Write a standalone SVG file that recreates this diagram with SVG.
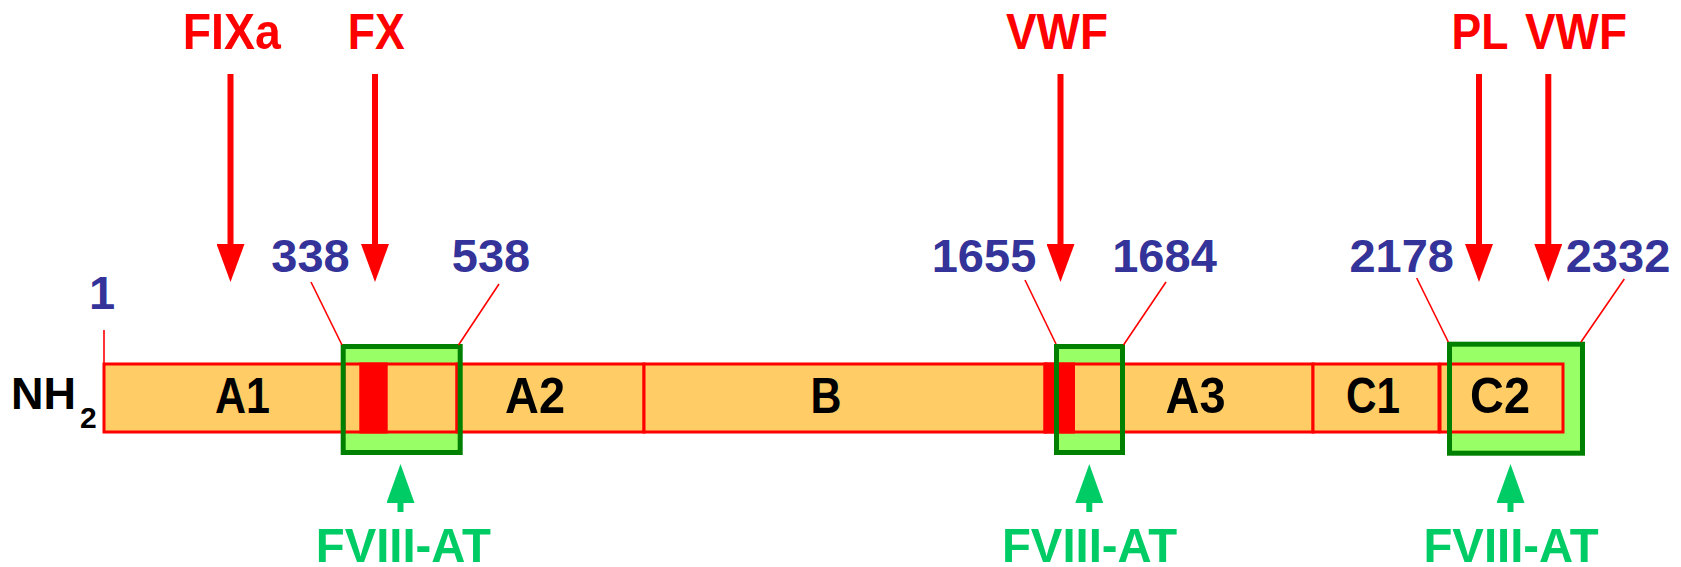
<svg xmlns="http://www.w3.org/2000/svg" width="1681" height="567" viewBox="0 0 1681 567">
  <style>
    text { font-family: "Liberation Sans", Arial, Helvetica, sans-serif; font-weight: bold; }
    .ligand { fill: #ff0000; font-size: 50px; text-anchor: middle; }
    .pos { fill: #333399; font-size: 47px; text-anchor: middle; }
    .dom { fill: #000000; font-size: 50px; text-anchor: middle; }
    .at { fill: #00cc66; font-size: 49px; text-anchor: middle; }
    .seg { fill: #ffcc66; stroke: #ff0000; stroke-width: 3; }
    .acid { fill: #ff0000; }
    .boxfill { fill: #99ff66; }
    .boxline { fill: none; stroke: #008000; stroke-width: 5; }
    .lead { stroke: #ff0000; stroke-width: 1.6; fill: none; }
    .bind { stroke: #ff0000; stroke-width: 6; fill: none; marker-end: url(#headRed); }
    .site { stroke: #00cc66; stroke-width: 6; fill: none; marker-end: url(#headGreen); }
  </style>
  <defs>
    <marker id="headRed" markerUnits="userSpaceOnUse" viewBox="0 0 38 28" markerWidth="38" markerHeight="28" refX="0" refY="14" orient="auto">
      <path d="M0,0 L38,14 L0,28 Z" fill="#ff0000"/>
    </marker>
    <marker id="headGreen" markerUnits="userSpaceOnUse" viewBox="0 0 39 28" markerWidth="39" markerHeight="28" refX="0" refY="14" orient="auto">
      <path d="M0,0 L39,14 L0,28 Z" fill="#00cc66"/>
    </marker>
  </defs>

  <!-- N-terminus -->
  <g id="nterm">
    <text x="11" y="409" style="font-size:45px">NH</text>
    <text x="80" y="428" style="font-size:30px">2</text>
    <line x1="104" y1="330" x2="104" y2="364" class="lead"/>
    <text class="pos" x="102" y="309">1</text>
  </g>

  <!-- antibody epitope regions: light fill under the chain -->
  <g id="epitope-fills">
    <rect class="boxfill" x="343.2" y="346.5" width="117" height="106"/>
    <rect class="boxfill" x="1056.5" y="346.5" width="66" height="106"/>
    <rect class="boxfill" x="1449.5" y="344.2" width="133" height="109"/>
  </g>

  <!-- domain chain -->
  <g id="domain-A1">
    <rect class="seg" x="104" y="364" width="240" height="68"/>
    <text class="dom" x="242.5" y="412.5" textLength="55" lengthAdjust="spacingAndGlyphs">A1</text>
  </g>
  <g id="linker-a1">
    <rect class="seg" x="344" y="364" width="113" height="68"/>
    <rect class="acid" x="359.3" y="362.5" width="28.4" height="71"/>
  </g>
  <g id="domain-A2">
    <rect class="seg" x="457" y="364" width="187" height="68"/>
    <text class="dom" x="535" y="412.5" textLength="60" lengthAdjust="spacingAndGlyphs">A2</text>
  </g>
  <g id="domain-B">
    <rect class="seg" x="644" y="364" width="401" height="68"/>
    <text class="dom" x="826" y="412.5" textLength="31" lengthAdjust="spacingAndGlyphs">B</text>
  </g>
  <g id="linker-a3">
    <rect class="seg" x="1045" y="364" width="78" height="68"/>
    <rect class="acid" x="1044.5" y="362.5" width="30.5" height="71"/>
  </g>
  <g id="domain-A3">
    <rect class="seg" x="1123" y="364" width="190" height="68"/>
    <text class="dom" x="1195.5" y="412.5" textLength="60" lengthAdjust="spacingAndGlyphs">A3</text>
  </g>
  <g id="domain-C1">
    <rect class="seg" x="1313" y="364" width="126" height="68"/>
    <text class="dom" x="1373" y="412.5" textLength="54" lengthAdjust="spacingAndGlyphs">C1</text>
  </g>
  <g id="domain-C2">
    <rect class="seg" x="1440" y="364" width="123" height="68"/>
    <text class="dom" x="1500" y="412.5" textLength="60" lengthAdjust="spacingAndGlyphs">C2</text>
  </g>

  <!-- antibody epitope outlines -->
  <g id="epitope-1">
    <rect class="boxline" x="343.2" y="346.5" width="117" height="106"/>
  </g>
  <g id="epitope-2">
    <rect class="boxline" x="1056.5" y="346.5" width="66" height="106"/>
  </g>
  <g id="epitope-3">
    <rect class="boxline" x="1449.5" y="344.2" width="133" height="109"/>
  </g>

  <!-- residue numbers -->
  <g id="residues">
    <text class="pos" x="310.5" y="272">338</text>
    <text class="pos" x="491" y="272">538</text>
    <text class="pos" x="984" y="272">1655</text>
    <text class="pos" x="1164.5" y="272">1684</text>
    <text class="pos" x="1401.7" y="272">2178</text>
    <text class="pos" x="1618" y="272">2332</text>
  </g>

  <!-- ligand names -->
  <g id="ligands">
    <text class="ligand" x="231.7" y="49" textLength="98" lengthAdjust="spacingAndGlyphs">FIXa</text>
    <text class="ligand" x="376.3" y="49" textLength="57" lengthAdjust="spacingAndGlyphs">FX</text>
    <text class="ligand" x="1057" y="49" textLength="102" lengthAdjust="spacingAndGlyphs">VWF</text>
    <text class="ligand" x="1480" y="49" textLength="57" lengthAdjust="spacingAndGlyphs">PL</text>
    <text class="ligand" x="1576" y="49" textLength="102" lengthAdjust="spacingAndGlyphs">VWF</text>
  </g>

  <!-- antibody labels -->
  <g id="antibodies">
    <text class="at" x="403.3" y="562" textLength="175" lengthAdjust="spacingAndGlyphs">FVIII-AT</text>
    <text class="at" x="1089.5" y="562" textLength="175" lengthAdjust="spacingAndGlyphs">FVIII-AT</text>
    <text class="at" x="1511" y="562" textLength="175" lengthAdjust="spacingAndGlyphs">FVIII-AT</text>
  </g>

  <!-- connectors -->
  <g id="connectors">
    <line class="lead" x1="311" y1="282" x2="342" y2="345"/>
    <line class="lead" x1="499" y1="284" x2="458.5" y2="345"/>
    <line class="lead" x1="1025" y1="280" x2="1056" y2="344"/>
    <line class="lead" x1="1166" y1="282" x2="1123.5" y2="345"/>
    <line class="lead" x1="1416.7" y1="278" x2="1448.3" y2="342"/>
    <line class="lead" x1="1624.3" y1="279" x2="1581" y2="342"/>

    <line class="bind" x1="230.5" y1="74" x2="230.5" y2="244"/>
    <line class="bind" x1="375" y1="74" x2="375" y2="244"/>
    <line class="bind" x1="1060.5" y1="74" x2="1060.5" y2="244"/>
    <line class="bind" x1="1479" y1="74" x2="1479" y2="244"/>
    <line class="bind" x1="1548.3" y1="74" x2="1548.3" y2="244"/>

    <line class="site" x1="400.5" y1="512" x2="400.5" y2="503"/>
    <line class="site" x1="1089.3" y1="512" x2="1089.3" y2="503"/>
    <line class="site" x1="1510.5" y1="512" x2="1510.5" y2="503"/>
  </g>
</svg>
